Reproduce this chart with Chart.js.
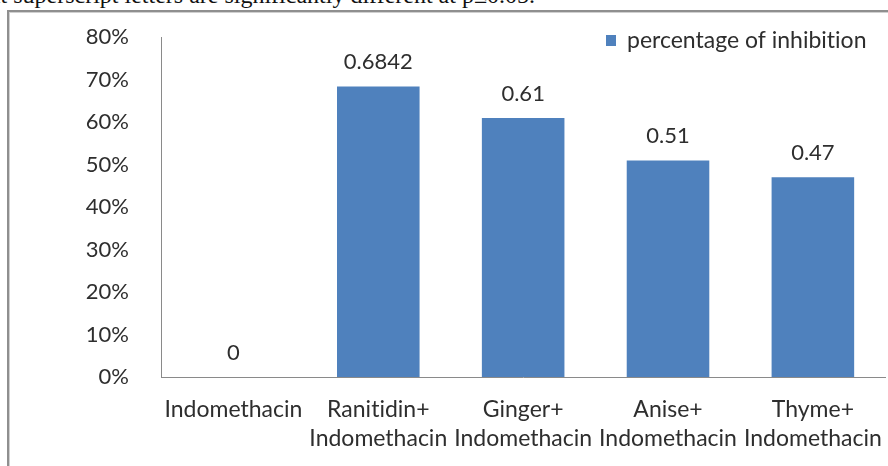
<!DOCTYPE html>
<html><head><meta charset="utf-8">
<script src="https://cdn.jsdelivr.net/npm/chart.js@4"></script>
<style>
html,body{margin:0;padding:0;background:#fff;width:888px;height:466px;overflow:hidden;position:relative}
#cap{position:absolute;top:-16px;left:0;white-space:nowrap;font-family:'Liberation Serif','DejaVu Serif',serif;font-size:24px;line-height:23px;color:#111}
#frame{position:absolute;left:7px;top:10px;width:1000px;height:1000px;border-left:2px solid #8f8f8f;border-top:2px solid #8f8f8f;box-shadow:inset 1px 1px 0 #d0d0d0}
#wrap{position:absolute;left:0;top:0;width:892px;height:466px}
</style></head><body>
<div id="cap"><span id="pre">different </span>superscript letters are significantly different at p≤0.05.</div>
<div id="frame"></div>
<div id="wrap"><canvas id="c" width="892" height="466"></canvas></div>
<script>
// ---- data ----
const categories = [
  ["Indomethacin"],
  ["Ranitidin+", "Indomethacin"],
  ["Ginger+", "Indomethacin"],
  ["Anise+", "Indomethacin"],
  ["Thyme+", "Indomethacin"]
];
const inhibition = [0, 0.6842, 0.61, 0.51, 0.47];
const valueLabels = ["0", "0.6842", "0.61", "0.51", "0.47"];
const yTickLabels = ["0%", "10%", "20%", "30%", "40%", "50%", "60%", "70%", "80%"];
const seriesName = "percentage of inhibition";

// ---- caption placement ----
const pre = document.getElementById('pre');
document.getElementById('cap').style.left = (13 - pre.offsetWidth) + 'px';

const FONT = "Lato, 'Open Sans', sans-serif";
const TEXT = '#2e2e2e';
const BAR = '#4f81bd';

const noLigaturePlugin = {
  id: 'noLig',
  beforeDraw(chart) {
    try { chart.ctx.textRendering = 'optimizeSpeed'; } catch (e) {}
  }
};

const valueLabelPlugin = {
  id: 'valueLabels',
  afterDatasetsDraw(chart) {
    const ctx = chart.ctx;
    const meta = chart.getDatasetMeta(0);
    ctx.save();
    ctx.font = '22px ' + FONT;
    ctx.fillStyle = TEXT;
    ctx.textAlign = 'center';
    ctx.textBaseline = 'middle';
    meta.data.forEach((bar, i) => {
      ctx.fillText(valueLabels[i], bar.x, bar.y - 24);
    });
    ctx.restore();
  }
};

const legendPlugin = {
  id: 'insideLegend',
  afterDraw(chart) {
    const ctx = chart.ctx;
    const ds = chart.data.datasets[0];
    ctx.save();
    ctx.fillStyle = ds.backgroundColor;
    ctx.fillRect(606, 35, 10, 11);
    ctx.font = '23px ' + FONT;
    ctx.fillStyle = TEXT;
    ctx.textAlign = 'left';
    ctx.textBaseline = 'middle';
    ctx.fillText(ds.label, 627, 41);
    ctx.restore();
  }
};

new Chart(document.getElementById('c'), {
  type: 'bar',
  data: {
    labels: categories,
    datasets: [{
      label: seriesName,
      data: inhibition,
      backgroundColor: BAR,
      borderWidth: 0,
      barPercentage: 0.57,
      categoryPercentage: 1
    }]
  },
  options: {
    responsive: false,
    animation: false,
    devicePixelRatio: 1,
    layout: { padding: { top: 37, right: 2, bottom: 0, left: 0 } },
    plugins: { legend: { display: false }, tooltip: { enabled: false } },
    scales: {
      x: {
        grid: { display: false },
        border: { display: true, color: '#8a8a8a', width: 1 },
        ticks: {
          color: TEXT,
          font: { family: FONT, size: 23, lineHeight: '29px' },
          padding: 10,
          maxRotation: 0,
          autoSkip: false
        },
        afterFit(s) { s.height = 89; }
      },
      y: {
        min: 0, max: 0.8,
        grid: { display: false },
        border: { display: true, color: '#8a8a8a', width: 1 },
        ticks: {
          stepSize: 0.1,
          color: TEXT,
          font: { family: FONT, size: 22 },
          padding: 24,
          callback: (v) => yTickLabels[Math.round(v * 10)]
        },
        afterFit(s) { s.width = 161; }
      }
    }
  },
  plugins: [noLigaturePlugin, valueLabelPlugin, legendPlugin]
});
</script>
</body></html>
